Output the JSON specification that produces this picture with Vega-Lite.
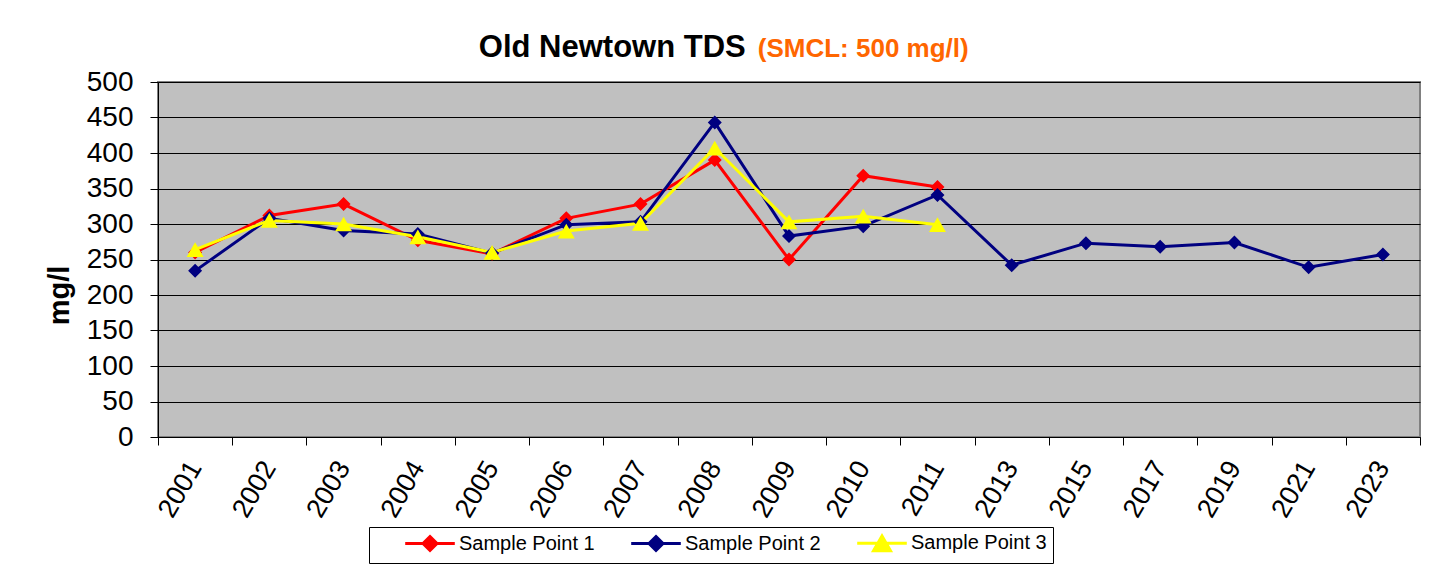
{
  "$schema": "https://vega.github.io/schema/vega-lite/v6.json",
  "width": 1262,
  "height": 355,
  "autosize": {"type": "none"},
  "padding": {"left": 158, "top": 82, "right": 22, "bottom": 141},
  "background": "white",
  "config": {
    "font": "Liberation Sans",
    "view": {"fill": "#C0C0C0", "stroke": "#808080", "strokeWidth": 2},
    "axis": {"labelColor": "black", "tickColor": "black", "domainColor": "black", "tickSize": 8, "labelFont": "Liberation Sans", "titleFont": "Liberation Sans", "titleColor": "black"},
    "axisX": {"labelAngle": -60, "labelAlign": "right", "labelBaseline": "middle", "labelFontSize": 27, "labelPadding": 18, "tickBand": "extent", "grid": false},
    "axisY": {"tickCount": 10, "labelOverlap": false, "grid": true, "gridColor": "black", "gridWidth": 1, "gridOpacity": 1, "labelFontSize": 28, "labelPadding": 17, "titleFontSize": 29, "titleFontWeight": "bold", "titleX": -99, "titleY": 213, "titleAngle": -90, "titleAlign": "center", "titleBaseline": "middle"}
  },
  "datasets": {
    "tds": [
      {"year": "2001", "series": "Sample Point 1", "value": 260},
      {"year": "2002", "series": "Sample Point 1", "value": 312},
      {"year": "2003", "series": "Sample Point 1", "value": 328},
      {"year": "2004", "series": "Sample Point 1", "value": 277},
      {"year": "2005", "series": "Sample Point 1", "value": 258},
      {"year": "2006", "series": "Sample Point 1", "value": 308},
      {"year": "2007", "series": "Sample Point 1", "value": 328},
      {"year": "2008", "series": "Sample Point 1", "value": 390},
      {"year": "2009", "series": "Sample Point 1", "value": 250},
      {"year": "2010", "series": "Sample Point 1", "value": 368},
      {"year": "2011", "series": "Sample Point 1", "value": 352},
      {"year": "2001", "series": "Sample Point 2", "value": 234},
      {"year": "2002", "series": "Sample Point 2", "value": 308},
      {"year": "2003", "series": "Sample Point 2", "value": 291},
      {"year": "2004", "series": "Sample Point 2", "value": 286},
      {"year": "2005", "series": "Sample Point 2", "value": 259},
      {"year": "2006", "series": "Sample Point 2", "value": 299},
      {"year": "2007", "series": "Sample Point 2", "value": 303},
      {"year": "2008", "series": "Sample Point 2", "value": 443},
      {"year": "2009", "series": "Sample Point 2", "value": 283},
      {"year": "2010", "series": "Sample Point 2", "value": 297},
      {"year": "2011", "series": "Sample Point 2", "value": 341},
      {"year": "2013", "series": "Sample Point 2", "value": 242},
      {"year": "2015", "series": "Sample Point 2", "value": 273},
      {"year": "2017", "series": "Sample Point 2", "value": 268},
      {"year": "2019", "series": "Sample Point 2", "value": 274},
      {"year": "2021", "series": "Sample Point 2", "value": 239},
      {"year": "2023", "series": "Sample Point 2", "value": 257},
      {"year": "2001", "series": "Sample Point 3", "value": 264},
      {"year": "2002", "series": "Sample Point 3", "value": 305},
      {"year": "2003", "series": "Sample Point 3", "value": 300},
      {"year": "2004", "series": "Sample Point 3", "value": 282},
      {"year": "2005", "series": "Sample Point 3", "value": 260},
      {"year": "2006", "series": "Sample Point 3", "value": 290},
      {"year": "2007", "series": "Sample Point 3", "value": 301},
      {"year": "2008", "series": "Sample Point 3", "value": 407},
      {"year": "2009", "series": "Sample Point 3", "value": 303},
      {"year": "2010", "series": "Sample Point 3", "value": 311},
      {"year": "2011", "series": "Sample Point 3", "value": 299}
    ],
    "heading": [
      {"part": "Old Newtown TDS"}
    ],
    "note": [
      {"part": "(SMCL: 500 mg/l)"}
    ]
  },
  "layer": [
    {
      "data": {"name": "tds"},
      "mark": {"type": "line", "strokeWidth": 3},
      "encoding": {
        "x": {
          "field": "year",
          "type": "ordinal",
          "scale": {
            "type": "band",
            "domain": ["2001", "2002", "2003", "2004", "2005", "2006", "2007", "2008", "2009", "2010", "2011", "2013", "2015", "2017", "2019", "2021", "2023"],
            "paddingInner": 0,
            "paddingOuter": 0
          },
          "axis": {"title": null, "tickBand": "extent"}
        },
        "y": {
          "field": "value",
          "type": "quantitative",
          "scale": {"domain": [0, 500], "nice": false, "zero": true},
          "axis": {"title": "mg/l"}
        },
        "color": {
          "field": "series",
          "type": "nominal",
          "scale": {"domain": ["Sample Point 1", "Sample Point 2", "Sample Point 3"], "range": ["#FF0000", "#000080", "#FFFF00"]},
          "legend": {
            "orient": "none",
            "legendX": 211,
            "legendY": 445,
            "direction": "horizontal",
            "title": "\u00a0",
            "titleOrient": "left",
            "titleFontSize": 1,
            "titlePadding": 45,
            "strokeColor": "black",
            "fillColor": "white",
            "padding": 6,
            "labelFontSize": 20,
            "labelFont": "Liberation Sans",
            "labelColor": "black",
            "symbolSize": 256,
            "symbolStrokeWidth": 3,
            "columnPadding": 30,
            "labelOffset": 19,
            "labelLimit": 300
          }
        }
      }
    },
    {
      "data": {"name": "tds"},
      "mark": {"type": "point", "filled": true, "opacity": 1, "size": 256},
      "encoding": {
        "x": {"field": "year", "type": "ordinal", "axis": {"title": null}},
        "y": {"field": "value", "type": "quantitative", "axis": {"title": "mg/l"}},
        "color": {
          "field": "series",
          "type": "nominal",
          "legend": null
        },
        "shape": {
          "field": "series",
          "type": "nominal",
          "scale": {
            "domain": ["Sample Point 1", "Sample Point 2", "Sample Point 3"],
            "range": [
              "M-3.1,0H3.1M0,-0.875L0.875,0L0,0.875L-0.875,0Z",
              "M-3.1,0H3.1M0,-0.875L0.875,0L0,0.875L-0.875,0Z",
              "M-3.1,0H3.1M0,-0.92L1.06,0.92L-1.06,0.92Z"
            ]
          },
          "legend": null
        }
      }
    },
    {
      "data": {"name": "heading"},
      "mark": {"type": "text", "align": "right", "baseline": "alphabetic", "dx": 31, "fontSize": 31, "fontWeight": "bold", "color": "black", "font": "Liberation Sans"},
      "encoding": {
        "x": {"datum": "2008"},
        "y": {"datum": 535},
        "text": {"field": "part"}
      }
    },
    {
      "data": {"name": "note"},
      "mark": {"type": "text", "align": "center", "baseline": "alphabetic", "fontSize": 26, "fontWeight": "bold", "color": "#FF6600", "font": "Liberation Sans"},
      "encoding": {
        "x": {"datum": "2010"},
        "y": {"datum": 535},
        "text": {"field": "part"}
      }
    }
  ]
}
